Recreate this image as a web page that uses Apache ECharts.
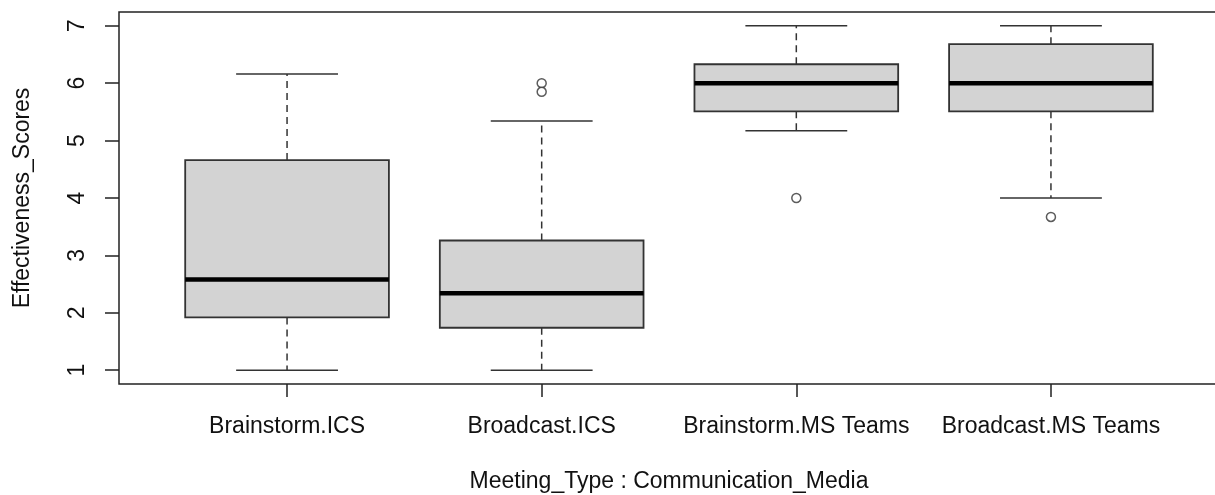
<!DOCTYPE html>
<html>
<head>
<meta charset="utf-8">
<script src="https://cdn.jsdelivr.net/npm/echarts@6/dist/echarts.min.js"></script>
<style>
html,body{margin:0;padding:0;background:#fff;}
#chart{width:1215px;height:495px;}
</style>
</head>
<body>
<div id="chart"></div>
<script>
var categories = ['Brainstorm.ICS', 'Broadcast.ICS', 'Brainstorm.MS Teams', 'Broadcast.MS Teams'];
var lowerWhisker = [1.0, 1.0, 5.17, 4.0];
var q1 = [1.92, 1.74, 5.51, 5.51];
var median = [2.58, 2.34, 6.0, 6.0];
var q3 = [4.66, 3.26, 6.33, 6.68];
var upperWhisker = [6.16, 5.34, 7.0, 7.0];
var outlierGroup = [2, 2, 3, 4];
var outlierValue = [6.0, 5.85, 4.0, 3.67];
var yTicks = [1, 2, 3, 4, 5, 6, 7];
var xTicks = [1, 2, 3, 4];

var boxData = categories.map(function (c, i) {
  return [i + 1, lowerWhisker[i], q1[i], median[i], q3[i], upperWhisker[i]];
});
var outlierData = outlierGroup.map(function (g, i) { return [g, outlierValue[i]]; });

var boxHalf = 0.4, capHalf = 0.2;
var lineCol = '#333';

function renderBox(params, api) {
  var x = api.value(0);
  var lo = api.value(1), a = api.value(2), m = api.value(3), b = api.value(4), hi = api.value(5);
  var pLo = api.coord([x, lo]), pA = api.coord([x, a]), pM = api.coord([x, m]), pB = api.coord([x, b]), pHi = api.coord([x, hi]);
  var left = api.coord([x - boxHalf, m])[0], right = api.coord([x + boxHalf, m])[0];
  var cl = api.coord([x - capHalf, m])[0], cr = api.coord([x + capHalf, m])[0];
  var dashStyle = { stroke: lineCol, lineWidth: 1.5, lineDash: [7, 5] };
  var solid = { stroke: lineCol, lineWidth: 1.5 };
  return {
    type: 'group',
    children: [
      { type: 'line', shape: { x1: pA[0], y1: pA[1], x2: pLo[0], y2: pLo[1] }, style: dashStyle },
      { type: 'line', shape: { x1: pB[0], y1: pB[1], x2: pHi[0], y2: pHi[1] }, style: dashStyle },
      { type: 'line', shape: { x1: cl, y1: pLo[1], x2: cr, y2: pLo[1] }, style: solid },
      { type: 'line', shape: { x1: cl, y1: pHi[1], x2: cr, y2: pHi[1] }, style: solid },
      { type: 'rect', shape: { x: left, y: pB[1], width: right - left, height: pA[1] - pB[1] },
        style: { fill: '#d3d3d3', stroke: lineCol, lineWidth: 1.8 } },
      { type: 'line', shape: { x1: left, y1: pM[1], x2: right, y2: pM[1] }, style: { stroke: '#000', lineWidth: 4.5 } }
    ]
  };
}

var chart = echarts.init(document.getElementById('chart'), null, { renderer: 'canvas' });
var font = 'Liberation Sans, Arial, sans-serif';
chart.setOption({
  animation: false,
  backgroundColor: '#fff',
  grid: { left: 119, top: 12, width: 1100, height: 372, outerBoundsMode: 'none', containLabel: false,
    show: true, borderColor: '#222', borderWidth: 1.5, backgroundColor: 'transparent' },
  xAxis: {
    type: 'value', min: 0.34, max: 4.66,
    name: 'Meeting_Type : Communication_Media', nameLocation: 'middle', nameGap: 86,
    nameTextStyle: { fontFamily: font, fontSize: 23, color: '#111' },
    axisLine: { show: false },
    splitLine: { show: false },
    axisTick: { show: true, length: 13, inside: false, customValues: xTicks, lineStyle: { color: '#222', width: 1.5 } },
    axisLabel: { show: true, customValues: xTicks, margin: 31, fontFamily: font, fontSize: 23, color: '#111',
      formatter: function (v) { return categories[Math.round(v) - 1] || ''; } }
  },
  yAxis: {
    type: 'value', min: 0.76, max: 7.24,
    name: 'Effectiveness_Scores', nameLocation: 'middle', nameGap: 85, nameRotate: 90,
    nameTextStyle: { fontFamily: font, fontSize: 23, color: '#111' },
    axisLine: { show: false },
    splitLine: { show: false },
    axisTick: { show: true, length: 14, customValues: yTicks, lineStyle: { color: '#222', width: 1.5 } },
    axisLabel: { show: true, customValues: yTicks, rotate: 90, margin: 30, fontFamily: font, fontSize: 23, color: '#111' }
  },
  series: [
    { type: 'custom', renderItem: renderBox, data: boxData, encode: { x: 0, y: [1, 2, 3, 4, 5] }, clip: false },
    { type: 'scatter', data: outlierData, symbol: 'circle', symbolSize: 9,
      itemStyle: { color: '#fff', borderColor: lineCol, borderWidth: 1.5 } }
  ]
});
</script>
</body>
</html>
